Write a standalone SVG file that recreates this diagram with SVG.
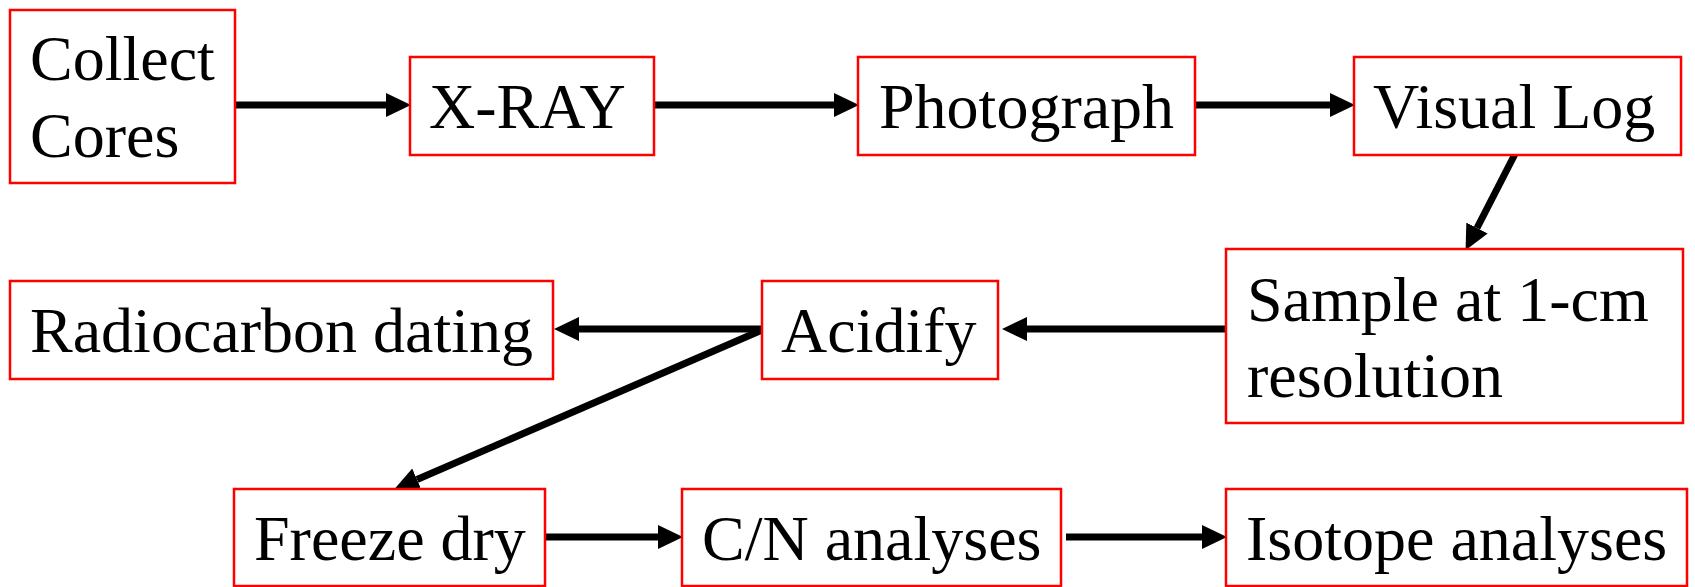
<svg xmlns="http://www.w3.org/2000/svg" width="1695" height="587" viewBox="0 0 1695 587">
<style>
.box{fill:#fff;stroke:#ff0000;stroke-width:2.5}
.t{font-family:"Liberation Serif","Times New Roman",serif;font-size:64px;fill:#000}
.c{stroke:#000;stroke-width:7;fill:none}
</style>
<defs>
<marker id="ah" markerUnits="userSpaceOnUse" markerWidth="25" markerHeight="24" viewBox="0 0 25 24" refX="0" refY="12" orient="auto">
<path d="M0,0 L25,12 L0,24 z" fill="#000"/>
</marker>
</defs>
<rect width="1695" height="587" fill="#fff"/>
<g id="connectors">
<path class="c" d="M235,105 L386,105" marker-end="url(#ah)"/>
<path class="c" d="M654,105 L834,105" marker-end="url(#ah)"/>
<path class="c" d="M1195,105 L1330,105" marker-end="url(#ah)"/>
<path class="c" d="M1515,154 L1477,228" marker-end="url(#ah)"/>
<path class="c" d="M1226,329 L1027,329" marker-end="url(#ah)"/>
<path class="c" d="M762,329 L579,329" marker-end="url(#ah)"/>
<path class="c" d="M762,330 L417,479.5" marker-end="url(#ah)"/>
<path class="c" d="M545,537 L658,537" marker-end="url(#ah)"/>
<path class="c" d="M1066,537 L1202,537" marker-end="url(#ah)"/>
</g>
<g id="collect"><rect class="box" x="10" y="10" width="225" height="173"/><text class="t" x="30" y="80">Collect</text><text class="t" x="30" y="157">Cores</text></g>
<g id="xray"><rect class="box" x="410" y="57" width="244" height="98"/><text class="t" x="429" y="128">X-RAY</text></g>
<g id="photograph"><rect class="box" x="858" y="57" width="337" height="98"/><text class="t" x="879" y="128">Photograph</text></g>
<g id="visuallog"><rect class="box" x="1354" y="57" width="327" height="98"/><text class="t" x="1373" y="128">Visual Log</text></g>
<g id="sample"><rect class="box" x="1226" y="249" width="457" height="174"/><text class="t" x="1247" y="321">Sample at 1-cm</text><text class="t" x="1247" y="397">resolution</text></g>
<g id="acidify"><rect class="box" x="762" y="281" width="236" height="98"/><text class="t" x="781" y="352">Acidify</text></g>
<g id="radiocarbon"><rect class="box" x="10" y="281" width="543" height="98"/><text class="t" x="30" y="352">Radiocarbon dating</text></g>
<g id="freezedry"><rect class="box" x="234" y="489" width="311" height="97"/><text class="t" x="254" y="560">Freeze dry</text></g>
<g id="cn"><rect class="box" x="682" y="489" width="379" height="97"/><text class="t" x="702" y="560">C/N analyses</text></g>
<g id="isotope"><rect class="box" x="1226" y="489" width="461" height="97"/><text class="t" x="1246" y="560">Isotope analyses</text></g>
</svg>
